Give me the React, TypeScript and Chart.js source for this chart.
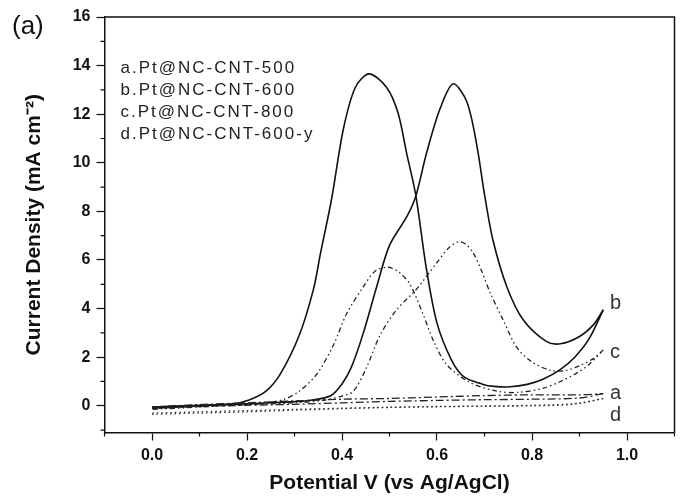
import React, { useEffect, useRef } from 'react';
import { Chart, registerables } from 'chart.js';

Chart.register(...registerables);

const FONT = "'Liberation Sans', Arial, Helvetica, sans-serif";

// Axis ticks
const xMajorTicks = [0, 0.2, 0.4, 0.6, 0.8, 1.0];
const xMinorTicks = [-0.1, 0.1, 0.3, 0.5, 0.7, 0.9, 1.1];
const yMajorTicks = [0, 2, 4, 6, 8, 10, 12, 14, 16];
const yMinorTicks = [-1, 1, 3, 5, 7, 9, 11, 13, 15];

// Legend entries
const legendLines = ['a.Pt@NC-CNT-500', 'b.Pt@NC-CNT-600', 'c.Pt@NC-CNT-800', 'd.Pt@NC-CNT-600-y'];

// Curve b (Pt@NC-CNT-600): forward and reverse scans
const bFwdV = [0.0, 0.1, 0.2, 0.28, 0.33, 0.375, 0.4, 0.42, 0.445, 0.473, 0.5, 0.537, 0.555, 0.578, 0.606, 0.634, 0.663, 0.684, 0.7, 0.718, 0.747, 0.781, 0.83, 0.86, 0.9, 0.93, 0.95];
const bFwdJ = [-0.05, 0.02, 0.08, 0.15, 0.22, 0.4, 0.9, 1.6, 3.0, 4.9, 6.6, 7.8, 8.6, 10.4, 12.2, 13.25, 12.5, 10.7, 8.7, 6.8, 4.9, 3.55, 2.65, 2.55, 2.85, 3.35, 3.95];
const bRevV = [0.95, 0.92, 0.89, 0.86, 0.824, 0.79, 0.754, 0.72, 0.697, 0.656, 0.63, 0.6, 0.578, 0.555, 0.536, 0.518, 0.494, 0.457, 0.428, 0.403, 0.378, 0.355, 0.34, 0.31, 0.27, 0.24, 0.206, 0.17, 0.1, 0.0];
const bRevJ = [3.95, 2.75, 2.0, 1.5, 1.1, 0.88, 0.78, 0.8, 0.88, 1.2, 1.9, 3.4, 5.6, 8.7, 10.4, 12.05, 13.1, 13.66, 13.1, 11.4, 8.5, 6.3, 4.8, 2.9, 1.3, 0.6, 0.25, 0.08, 0.0, -0.1];

// Curve c (Pt@NC-CNT-800)
const cFwdV = [0.0, 0.1, 0.2, 0.3, 0.36, 0.4, 0.424, 0.45, 0.48, 0.515, 0.557, 0.6, 0.625, 0.645, 0.66, 0.676, 0.695, 0.712, 0.74, 0.768, 0.8, 0.84, 0.87, 0.9, 0.93, 0.95];
const cFwdJ = [-0.12, -0.02, 0.05, 0.12, 0.22, 0.4, 0.6, 1.5, 2.9, 3.95, 4.8, 5.9, 6.5, 6.75, 6.65, 6.3, 5.5, 4.65, 3.5, 2.4, 1.8, 1.45, 1.45, 1.65, 1.95, 2.3];
const cRevV = [0.95, 0.92, 0.89, 0.86, 0.823, 0.77, 0.726, 0.67, 0.62, 0.592, 0.57, 0.543, 0.52, 0.497, 0.47, 0.445, 0.41, 0.382, 0.347, 0.31, 0.276, 0.22, 0.1, 0.0];
const cRevJ = [2.3, 1.7, 1.3, 1.0, 0.72, 0.55, 0.6, 0.95, 1.7, 2.7, 3.8, 5.0, 5.5, 5.7, 5.55, 4.9, 3.8, 2.5, 1.3, 0.6, 0.25, 0.08, -0.05, -0.15];

// Curve a (Pt@NC-CNT-500)
const aFwdV = [0.0, 0.1, 0.2, 0.3, 0.4, 0.5, 0.6, 0.7, 0.8, 0.9, 0.95];
const aFwdJ = [-0.05, 0.05, 0.12, 0.2, 0.27, 0.3, 0.36, 0.42, 0.45, 0.45, 0.5];
const aRevV = [0.95, 0.9, 0.8, 0.7, 0.6, 0.5, 0.4, 0.3, 0.2, 0.1, 0.0];
const aRevJ = [0.5, 0.32, 0.27, 0.25, 0.22, 0.18, 0.12, 0.06, 0.02, -0.03, -0.1];

// Curve d (Pt@NC-CNT-600-y)
const dFwdV = [0.0, 0.1, 0.2, 0.3, 0.4, 0.5, 0.6, 0.7, 0.8, 0.88, 0.95];
const dFwdJ = [-0.35, -0.3, -0.25, -0.18, -0.12, -0.07, -0.04, -0.02, 0.0, 0.05, 0.3];
const dRevV = [0.95, 0.9, 0.8, 0.7, 0.6, 0.5, 0.4, 0.3, 0.2, 0.1, 0.0];
const dRevJ = [0.3, 0.1, 0.02, -0.01, -0.03, -0.06, -0.1, -0.15, -0.2, -0.25, -0.3];

// End-of-curve letter labels (position in data units)
const curveLabels = ['b', 'c', 'a', 'd'];
const curveLabelV = [0.964, 0.964, 0.964, 0.964];
const curveLabelJ = [4.2, 2.2, 0.5, -0.4];

const toPoints = (vs: number[], js: number[]) => vs.map((v, i) => ({ x: v, y: js[i] }));

const DASH_B: number[] = [];
const DASH_C = [5, 3, 1.5, 3, 1.5, 3];
const DASH_A = [8, 3, 2, 3];
const DASH_D = [1.5, 3];

const decorPlugin = {
  id: 'decor',
  afterDraw(chart: any) {
    const { ctx, chartArea, scales } = chart;
    const { left, right, top, bottom } = chartArea;
    ctx.save();
    ctx.strokeStyle = '#111';
    // top and right frame
    ctx.lineWidth = 1.5;
    ctx.beginPath();
    ctx.moveTo(left, top);
    ctx.lineTo(right, top);
    ctx.lineTo(right, bottom);
    ctx.stroke();
    // minor ticks
    ctx.lineWidth = 1.2;
    ctx.beginPath();
    xMinorTicks.forEach((v) => {
      const px = scales.x.getPixelForValue(v);
      ctx.moveTo(px, bottom);
      ctx.lineTo(px, bottom + 4);
    });
    yMinorTicks.forEach((v) => {
      const py = scales.y.getPixelForValue(v);
      ctx.moveTo(left, py);
      ctx.lineTo(left - 4, py);
    });
    ctx.stroke();

    // panel label
    ctx.fillStyle = '#111';
    ctx.font = `26px ${FONT}`;
    ctx.textAlign = 'left';
    ctx.textBaseline = 'alphabetic';
    ctx.fillText('(a)', 12, 34);

    // legend text
    ctx.fillStyle = '#222';
    ctx.font = `17px ${FONT}`;
    (ctx as any).letterSpacing = '2px';
    legendLines.forEach((t, i) => {
      ctx.fillText(t, left + 16, 73 + i * 22);
    });
    (ctx as any).letterSpacing = '0px';

    // curve letters
    ctx.font = `20px ${FONT}`;
    ctx.fillStyle = '#333';
    ctx.textBaseline = 'middle';
    curveLabels.forEach((t, i) => {
      ctx.fillText(t, scales.x.getPixelForValue(curveLabelV[i]), scales.y.getPixelForValue(curveLabelJ[i]));
    });
    ctx.restore();
  },
};

export default function App() {
  const ref = useRef<HTMLCanvasElement>(null);
  useEffect(() => {
    const canvas = ref.current;
    if (!canvas) return;
    const mk = (label: string, vs: number[], js: number[], dash: number[], width: number, color: string) => ({
      label,
      data: toPoints(vs, js),
      borderColor: color,
      borderWidth: width,
      borderDash: dash,
      pointRadius: 0,
      showLine: true,
      tension: 0.3,
      fill: false,
    });
    const tickFont = { family: FONT, size: 16, weight: 'bold' as const };
    const chart = new Chart(canvas, {
      type: 'scatter',
      data: {
        datasets: [
          mk('d fwd', dFwdV, dFwdJ, DASH_D, 1.3, '#333'),
          mk('d rev', dRevV, dRevJ, DASH_D, 1.3, '#333'),
          mk('a fwd', aFwdV, aFwdJ, DASH_A, 1.3, '#222'),
          mk('a rev', aRevV, aRevJ, DASH_A, 1.3, '#222'),
          mk('c fwd', cFwdV, cFwdJ, DASH_C, 1.3, '#222'),
          mk('c rev', cRevV, cRevJ, DASH_C, 1.3, '#222'),
          mk('b fwd', bFwdV, bFwdJ, DASH_B, 1.6, '#111'),
          mk('b rev', bRevV, bRevJ, DASH_B, 1.6, '#111'),
        ],
      },
      options: {
        animation: false,
        responsive: false,
        devicePixelRatio: 1,
        layout: { padding: { top: 17, right: 6.5, left: 0, bottom: 0 } },
        plugins: { legend: { display: false }, tooltip: { enabled: false } },
        scales: {
          x: {
            type: 'linear',
            min: -0.1,
            max: 1.1,
            afterBuildTicks: (s: any) => {
              s.ticks = xMajorTicks.map((v) => ({ value: v }));
            },
            afterFit: (s: any) => {
              s.height = 63.5;
            },
            grid: { drawOnChartArea: false, tickLength: 8, tickWidth: 1.2, tickColor: '#111' },
            border: { color: '#111', width: 1.5 },
            ticks: {
              font: tickFont,
              color: '#111',
              padding: 5,
              maxRotation: 0,
              autoSkip: false,
              callback: (v: any) => Number(v).toFixed(1),
            },
            title: {
              display: true,
              text: 'Potential V (vs Ag/AgCl)',
              font: { family: FONT, size: 21, weight: 'bold' },
              color: '#111',
              padding: { top: 0, bottom: 0 },
            },
          },
          y: {
            type: 'linear',
            min: -1.1,
            max: 16,
            afterBuildTicks: (s: any) => {
              s.ticks = yMajorTicks.map((v) => ({ value: v }));
            },
            afterFit: (s: any) => {
              s.width = 104.5;
            },
            grid: { drawOnChartArea: false, tickLength: 8, tickWidth: 1.2, tickColor: '#111' },
            border: { color: '#111', width: 1.5 },
            ticks: {
              font: tickFont,
              color: '#111',
              padding: 6,
              autoSkip: false,
              callback: (v: any) => String(v),
            },
            title: {
              display: true,
              text: 'Current Density (mA cm\u207B\u00B2)',
              font: { family: FONT, size: 21, weight: 'bold' },
              color: '#111',
              padding: { top: 22, bottom: 0 },
            },
          },
        },
      },
      plugins: [decorPlugin],
    });
    return () => chart.destroy();
  }, []);
  return (
    <div style={{ position: 'absolute', left: 0, top: 0, width: 681, height: 496, background: '#fff' }}>
      <canvas ref={ref} width={681} height={496} style={{ display: 'block', width: 681, height: 496 }} />
    </div>
  );
}
